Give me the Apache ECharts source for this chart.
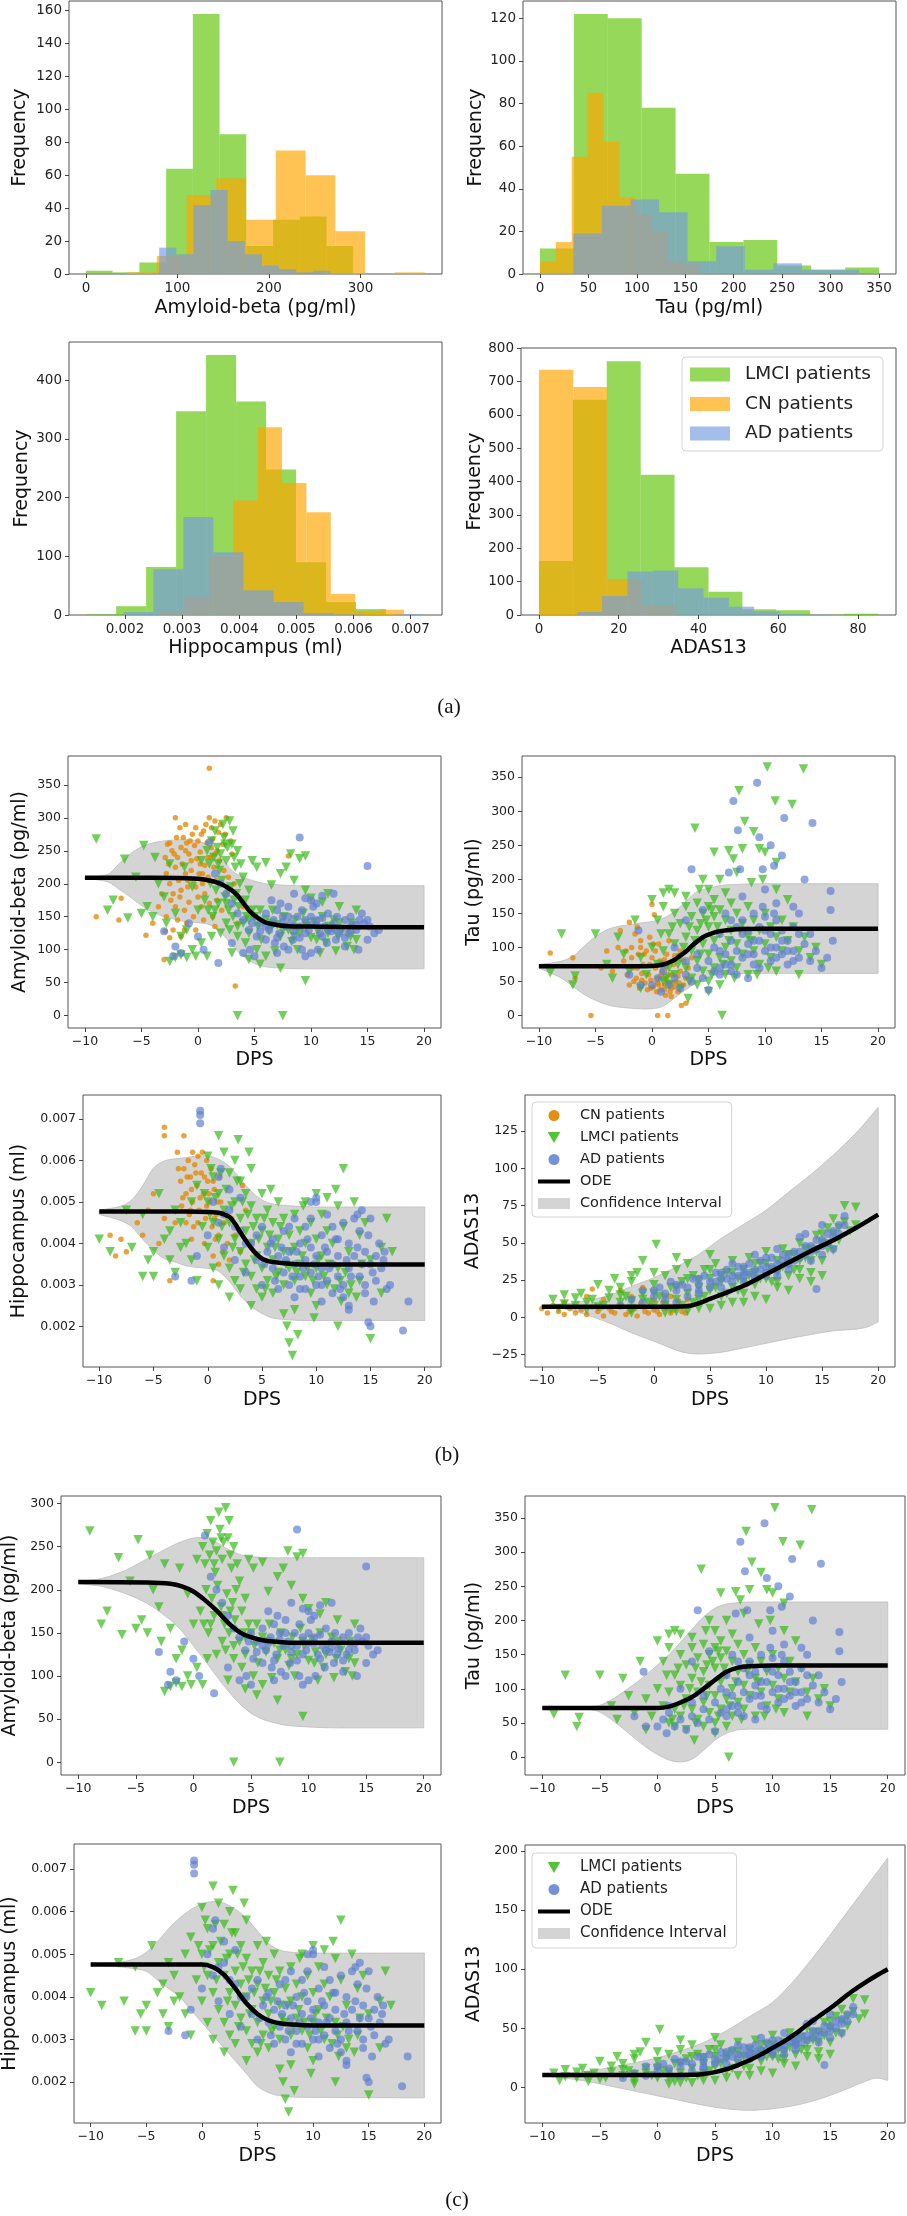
<!DOCTYPE html>
<html>
<head>
<meta charset="utf-8">
<script src="https://cdn.jsdelivr.net/npm/echarts@6/dist/echarts.min.js"></script>
<style>
  html, body { margin: 0; padding: 0; background: #fff; }
  #main { width: 907px; height: 2216px; }
</style>
</head>
<body>
<div id="main"></div>
<script>
// ---------- (a) histograms: bin edges + counts per group ----------
const abLmciEdges = [0, 29.2, 58.4, 87.6, 116.8, 146, 175.2, 204.4, 233.6, 262.8, 292];
const abLmciCounts = [2, 1, 7, 64, 158, 85, 17, 33, 35, 17];
const abCnEdges = [45, 77.5, 110, 142.5, 175, 207.5, 240, 272.5, 305, 337.5, 370];
const abCnCounts = [1, 11, 48, 58, 33, 75, 60, 26, 0, 1];
const abAdEdges = [80, 98.7, 117.4, 136.1, 154.8, 173.5, 192.2, 210.9, 229.6, 248.3, 267];
const abAdCounts = [16, 12, 42, 51, 20, 12, 5, 3, 1, 2];

const tauLmciEdges = [0, 35, 70, 105, 140, 175, 210, 245, 280, 315, 350];
const tauLmciCounts = [12, 122, 120, 78, 47, 15, 16, 4, 2, 3];
const tauCnEdges = [0, 16.4, 32.8, 49.2, 65.6, 82, 98.4, 114.8, 131.2, 147.6, 164];
const tauCnCounts = [6, 15, 55, 85, 62, 36, 28, 20, 6, 5];
const tauAdEdges = [34.4, 63.9, 93.4, 122.9, 152.4, 181.9, 211.4, 240.9, 270.4, 299.9, 329.4];
const tauAdCounts = [19, 32, 35, 29, 6, 13, 2, 5, 2, 2];

const hipLmciEdges = [0.00132, 0.001845, 0.00237, 0.002895, 0.00342, 0.003945, 0.00447, 0.004995, 0.00552, 0.006045, 0.00657];
const hipLmciCounts = [1, 15, 82, 347, 443, 364, 248, 90, 22, 10];
const hipCnEdges = [0.002614, 0.003041, 0.003468, 0.003895, 0.004322, 0.004749, 0.005176, 0.005603, 0.00603, 0.006457, 0.006884];
const hipCnCounts = [7, 31, 100, 195, 320, 225, 175, 36, 7, 9];
const hipAdEdges = [0.00197, 0.002496, 0.003022, 0.003548, 0.004074, 0.0046, 0.005126, 0.005652, 0.006178, 0.006704, 0.00723];
const hipAdCounts = [5, 78, 167, 107, 42, 22, 3, 1, 0, 1];

const adasLmciEdges = [0, 8.5, 17, 25.5, 34, 42.5, 51, 59.5, 68, 76.5, 85];
const adasLmciCounts = [162, 645, 760, 420, 143, 70, 17, 14, 1, 4];
const adasCnEdges = [0, 8.6, 17.2, 25.8, 34.4];
const adasCnCounts = [735, 683, 108, 28];
const adasAdEdges = [9.5, 15.85, 22.2, 28.55, 34.9, 41.25, 47.6, 53.95, 60.3, 66.65, 73];
const adasAdCounts = [9, 57, 130, 133, 80, 52, 25, 12, 3, 1];

// ---------- (b)/(c) scatter points [DPS, value] ----------
const abCnPts = [[-2.5,262],[-2.3,250],[-2,300],[-1.8,240],[-1.5,255],[-1.3,270],[-1,262],[-0.8,245],[-0.5,275],[-0.3,258],[0,265],[0.2,248],[0.5,280],[0.8,262],[1,300],[1.2,285],[1.5,295],[1.8,278],[2,290],[2.2,260],[2.5,300],[1,375],
  [-2.8,215],[-2.5,200],[-2.2,185],[-2,225],[-1.7,205],[-1.4,230],[-1.1,215],[-0.9,195],[-0.6,220],[-0.4,205],[-0.1,238],[0.1,215],[0.4,200],[0.6,228],[0.9,210],[1.1,240],[1.4,225],[1.6,205],[1.9,235],[2.3,220],[2.7,210],
  [-2.4,175],[-2,165],[-1.6,180],[-1.2,160],[-0.8,172],[-0.4,150],[0,180],[0.3,165],[0.6,185],[1,170],[1.3,150],[1.7,175],[2.1,160],[2.6,190],[-1,140],[-0.2,130],[0.5,145],[1.5,135],
  [-2.8,150],[-2.2,130],[-1.8,145],[-1.5,120],[-1.2,130],[-2.5,118],[-3,85],[-2.9,128],
  [-9,150],[-6.8,178],[-7,145],[-4.6,122],[-4,140],[-3.5,165],[-3.2,185],[-2.9,240],[3.3,45],[3,245],[3.2,200],[8,242],[4,165],[3.5,140],
  [-1.9,270],[-1.6,285],[-1.1,290],[-0.7,265],[-0.2,285],[0.3,275],[0.7,290],[1.3,268],[1.7,250],[2.4,275],[-2.6,230],[-2.1,245],[-0.6,235],[0.2,230],[1.2,255],[-1.5,190],[-0.9,205],[-0.2,195],[0.4,215],[1.5,245],[-2.7,260],[2.9,265],[-1.1,250],[0.9,240]];
const abLmciPts = [[0.8,250],[1,230],[1.2,265],[1.4,240],[1.5,280],[1.7,255],[1.9,220],[2,245],[2.2,290],[2.3,270],[2.5,235],[2.6,255],[2.8,295],[3,260],[3.2,240],[3.3,225],[3.5,250],[3.8,230],[4,210],[1.1,200],[1.6,190],[2.1,205],[2.4,180],[2.9,195],[3.4,185],[3.7,200],[4.2,175],[4.5,190],[0.6,175],[0.9,160],[1.3,150],[1.8,170],[2.7,160],[3.1,150],[3.6,165],[4.3,150],[4.8,160],
  [4,140],[4.5,125],[5,150],[5.3,135],[5.6,115],[6,145],[6.3,128],[6.6,160],[7,138],[7.3,120],[7.6,150],[8,130],[8.3,112],[8.6,145],[9,125],[9.3,155],[9.6,135],[10,118],[10.3,142],[10.6,128],[11,150],[11.3,110],[11.6,135],[12,145],[12.4,120],[12.8,130],[13.2,105],[13.6,140],[14,115],[5.2,100],[6.8,98],[8.8,100],[10.8,95],[12.2,98],[13.8,100],[4.2,110],[3.5,120],[2.8,130],[2,125],[1.2,120],[0.3,110],[-0.5,100],[-1,88],[-1.5,92],[-2,88],[-2.5,82],[-0.2,90],[0.8,90],
  [-9,268],[-6.5,237],[-7.5,175],[-8,160],[-6.2,148],[-5,155],[-4.5,165],[-4,150],[-3.5,200],[-3,180],[-2.8,140],[-2,155],[-1.5,120],[-1,130],[-0.5,195],[0,160],[-5.5,210],[-4.8,258],[-3.8,240],[-2.5,230],[4.8,235],[5.2,225],[6,232],[7.3,215],[7.8,225],[8.2,245],[9,238],[9.5,242],[8.5,205],[6.5,198],[10,178],[11,172],[12.5,165],[14,160],[9.5,190],[11.5,185],
  [3.5,0],[7.5,0],[9.5,53],[7.3,72],[5.5,78],[6,90],[4.5,85],[3,95],
  [2.5,140],[3.5,135],[4.5,145],[5.5,160],[6.5,140],[7.5,130],[8.5,120],[9.5,140],[10.5,115],[11.5,125],[12.5,140],[13.5,120],[1.5,160],[2.5,170],[3.2,175],[1.8,230],[2.4,260],[3.1,280],[0.3,235],[-1.2,225]];
const abAdPts = [[5,150],[5.5,140],[6,155],[6.3,130],[6.7,145],[7,160],[7.2,125],[7.5,150],[7.8,135],[8,165],[8.2,140],[8.5,128],[8.8,150],[9,135],[9.2,160],[9.5,145],[9.8,130],[10,150],[10.2,165],[10.5,138],[10.8,125],[11,148],[11.2,135],[11.5,155],[11.8,128],[12,140],[12.3,150],[12.6,132],[13,145],[13.3,125],[13.6,138],[14,130],[14.3,145],[14.7,140],[15.2,135],[15.6,125],[16,130],
  [5.2,120],[6,115],[6.8,110],[7.6,105],[8.4,115],[9.2,100],[10,95],[10.6,100],[11.4,110],[12.2,115],[13,105],[14.2,100],[15,115],[4.5,130],[4,145],[3.5,155],[3,170],[2.5,185],[2,200],[1.5,215],[1,263],[9,270],[15,227],
  [-3,128],[-2,105],[-1.5,95],[-2.2,90],[1.8,80],[-0.8,140],[0,120],[0.5,100],[3,110],[4,95],[7.3,170],[9.5,178],[10,175],[10.5,170],[11,182],[8.5,185],[6.5,175],[12,185],[13.5,150],[14.5,155],[9.5,90],[8,100],[7,95],[5,90],[4.6,100],
  [6.5,138],[7.5,142],[8.5,135],[9.5,125],[10.5,145],[11.5,130],[12.5,125],[13.5,130],[7,118],[9,118],[11,120],[13,118],[8,150],[10,138],[12,133],[14,138],[15,145],[5.5,128],[6,135],[4.8,140]];

const tauCnPts = [[-2,137],[-1.5,120],[-1.8,100],[-1.2,90],[-1,110],[-0.8,75],[-0.5,95],[-0.3,60],[0,85],[0.2,148],[0,163],[0.3,70],[0.5,55],[0.7,80],[0.9,65],[1.1,45],[1.3,90],[1.5,60],[1.7,40],[1.9,75],[2.1,50],[2.3,35],[2.5,65],[2.8,45],[3,55],
  [-2.5,80],[-2.2,60],[-2,45],[-1.7,70],[-1.4,55],[-1.1,40],[-0.9,62],[-0.6,48],[-0.4,38],[-0.1,52],[0.1,42],[0.4,35],[0.6,45],[0.8,38],[1,55],[1.2,30],[1.4,50],[1.6,35],[1.8,60],[2,42],[2.4,48],[-3,100],[-3.5,65],[-2.8,125],[-1.3,130],[-0.2,115],[0.6,105],[1.5,110],[2.5,95],[2.8,80],[3.2,70],[3.5,85],
  [-9,92],[-7,85],[-6.8,55],[-5.4,0],[0.5,0],[1.4,0],[2.6,15],[3,18],[-4.5,70],[-4,95],
  [-1.8,85],[-1.3,70],[-0.7,90],[-0.2,75],[0.3,95],[0.8,60],[1.3,72],[1.8,48],[2.3,58],[-1.6,50],[-0.9,52],[-0.1,40],[0.5,48],[1.1,38],[1.7,28],[-2.3,95],[-1,100],[0.1,105],[1.1,82],[2,88]];
const tauLmciPts = [[-9,63],[-8,120],[-7,45],[-6.8,58],[-5,120],[-4,75],[-3.5,55],[-3,115],[-2.5,90],[-2,65],[-1.5,140],[-1,85],[-0.5,60],[0,170],[0,100],[0.5,140],[0.5,75],[1,160],[1,95],[1,50],[1.5,120],[1.5,70],[1.5,45],[2,150],[2,105],[2,60],[2.5,135],[2.5,85],[2.5,40],[3,160],[3,115],[3,70],[3.5,145],[3.5,95],[3.5,55],[4,165],[4,125],[4,80],[4,45],[4.5,150],[4.5,105],[4.5,65],[5,160],[5,130],[5,90],[5,50],[5.5,145],[5.5,110],[5.5,70],[6,155],[6,120],[6,85],[6,45],[6.5,140],[6.5,100],[6.5,60],[7,165],[7,125],[7,80],[7.5,150],[7.5,105],[7.5,70],[8,135],[8,90],[8.5,160],[8.5,115],[8.5,60],[9,140],[9,95],[9.5,125],[9.5,75],[10,150],[10,105],[10.5,130],[10.5,85],[11,115],[11,65],[11.5,140],[11.5,95],[12,110],[12.5,130],[13,95],[13,60],[13.5,115],[14,85],[14.5,100],[15,75],
  [3.8,275],[4.5,200],[5,185],[5.5,240],[6.8,242],[7.2,230],[7.7,330],[8,245],[8.2,285],[9,270],[9.5,245],[10,240],[10.2,365],[10.9,315],[11,225],[12.4,310],[13.4,362],[12,170],[11,185],[9.8,200],[8.8,195],[7.5,210],[6.5,180],[6,200],[5.5,170],[4.2,185],[3,175],[2,180],[1.5,185],[1,180],[6.2,0],[5,35],[3.2,25],[-1,40],
  [0.8,120],[1.8,130],[2.8,100],[3.8,110],[4.8,140],[5.8,130],[6.8,110],[7.8,125],[8.8,110],[1.3,55],[2.3,75],[3.3,50],[4.3,90],[5.3,60],[6.3,75],[7.3,55],[9.3,60],[10.3,70],[3.3,130],[4.3,135],[5.3,155]];
const tauAdPts = [[-1.2,125],[-2,60],[-1,45],[0,45],[0.5,55],[0.8,35],[1,65],[1.5,45],[2,55],[2.5,40],[3,60],[3.5,50],[4,70],[4.5,55],[5,38],[5,80],[5.5,100],[6,70],[6,120],[6.5,90],[6.5,150],[7,110],[7,75],[7.5,130],[7.5,95],[8,85],[8,140],[8,175],[8.5,105],[8.5,125],[9,90],[9,150],[9,75],[9.5,110],[9.5,130],[10,95],[10,145],[10,185],[10.5,80],[10.5,120],[11,100],[11,165],[11,140],[11.5,90],[11.5,125],[12,110],[12,75],[12.5,95],[12.5,130],[13,150],[13,85],[13.5,105],[14,80],[14,120],[14.5,95],[15,70],[15.5,85],[15.8,183],[15.8,155],[16,110],[13.5,200],[12.5,160],
  [9.3,342],[7.2,315],[11.7,290],[14.2,283],[7.6,272],[9.5,262],[10.5,250],[11.5,235],[10.8,220],[9.8,215],[7.8,215],[6.8,210],[3.5,215],[4.5,155],[3,140],[2,100],[1,75],[6,60],[7,65],[8.5,55],
  [5.5,65],[6.5,75],[7.5,60],[8.5,90],[9.5,70],[10.5,100],[11.5,110],[12.5,80],[7,140],[8,120],[9,110],[10,125],[11,85],[12,95],[13,120],[9.8,160],[10.8,150],[6,95],[4,90],[3,80]];

const hipCnPts = [[-2.5,0.0055],[-2.2,0.0058],[-2,0.0052],[-1.8,0.006],[-1.6,0.0056],[-1.4,0.005],[-1.2,0.0059],[-1,0.0054],[-0.8,0.0048],[-0.6,0.0057],[-0.4,0.0052],[-0.2,0.0046],[0,0.0055],[0.2,0.005],[0.4,0.0044],[0.6,0.0053],[0.8,0.0047],[1,0.0042],[1.2,0.005],[1.5,0.0045],[1.8,0.004],[2.2,0.0046],[2.5,0.0042],[3,0.0038],
  [-2.4,0.0049],[-2,0.0045],[-1.7,0.0047],[-1.3,0.0044],[-0.9,0.0061],[-0.5,0.0062],[-0.1,0.006],[0.3,0.0058],[0.7,0.0041],[1.1,0.0056],[1.4,0.0038],[2,0.0036],[-2.8,0.0062],[-3,0.0045],[-1.5,0.0041],[-0.3,0.004],[0.5,0.0037],[1,0.0035],
  [-4,0.0068],[-4,0.0066],[-2.2,0.0066],[-8.5,0.0037],[-7.5,0.0038],[-9,0.0042],[-8,0.0041],[-6.5,0.0045],[-6,0.0042],[-5.5,0.0048],[-5,0.0052],[-4.5,0.004],[-4,0.0046],[-3.5,0.0031],[0.5,0.0031],[3.5,0.0048],[3.2,0.0054],
  [-2.3,0.0051],[-1.9,0.0056],[-1.5,0.0053],[-1.1,0.0057],[-0.7,0.0051],[-0.3,0.0056],[0.1,0.0052],[0.5,0.0055],[0.9,0.005],[-1.6,0.0048],[-0.9,0.0045],[-0.1,0.0049],[0.6,0.0046],[-2.7,0.0058],[-1.4,0.0062]];
const hipLmciPts = [[-10,0.0041],[-9,0.0038],[-7.5,0.0048],[-7,0.0039],[-6,0.0032],[-5,0.0038],[-5,0.0032],[-4.5,0.0052],[-4,0.0041],[-3.5,0.0036],[-3,0.0033],[-2.5,0.0045],[-2,0.004],[-1.5,0.0036],[-1,0.0054],[-1,0.0031],[-0.5,0.0044],[0,0.0061],[0,0.005],[0,0.0039],[0.5,0.0056],[0.5,0.0045],[0.5,0.0034],[1,0.0066],[1,0.0052],[1,0.0041],[1,0.003],[1.5,0.0062],[1.5,0.0048],[1.5,0.0037],[2,0.0057],[2,0.0045],[2,0.0034],[2,0.0027],[2.5,0.006],[2.5,0.005],[2.5,0.0041],[2.5,0.0031],[3,0.0055],[3,0.0046],[3,0.0038],[3,0.0029],[3.5,0.0052],[3.5,0.0043],[3.5,0.0035],[4,0.0058],[4,0.0049],[4,0.004],[4,0.0032],[4,0.0025],[4.5,0.0046],[4.5,0.0037],[4.5,0.0029],[5,0.0052],[5,0.0043],[5,0.0034],[5,0.0027],[5.5,0.0048],[5.5,0.0039],[5.5,0.0031],[6,0.0045],[6,0.0036],[6,0.0028],[6.5,0.005],[6.5,0.0041],[6.5,0.0033],[7,0.0046],[7,0.0038],[7,0.003],[7,0.0023],[7.5,0.0042],[7.5,0.0034],[7.5,0.0016],[7.8,0.0013],[8,0.0047],[8,0.0039],[8,0.0031],[8,0.0024],[8.5,0.0043],[8.5,0.0035],[9,0.005],[9,0.004],[9,0.0032],[9.5,0.0045],[9.5,0.0028],[10,0.0052],[10,0.0041],[10,0.0034],[10,0.0025],[10.5,0.0047],[10.5,0.0037],[11,0.0051],[11,0.0043],[11,0.003],[11.5,0.004],[12,0.0049],[12,0.0034],[12,0.002],[12.5,0.0058],[12.5,0.0044],[13,0.0038],[13,0.0028],[13.5,0.005],[14,0.0042],[14,0.0031],[14.5,0.0045],[15,0.0036],[15,0.0017],[16,0.0039],[16,0.0028],[17,0.0038],[16.5,0.0046],
  [0.3,0.0058],[0.7,0.0051],[1.2,0.0057],[1.7,0.0053],[2.2,0.0049],[2.7,0.0055],[3.2,0.005],[3.7,0.0047],[4.2,0.0044],[4.7,0.0041],[5.2,0.0046],[5.7,0.0042],[6.2,0.0039],[6.7,0.0044],[7.2,0.0035],[7.7,0.0038],[8.2,0.0033],[8.7,0.0037],[9.2,0.0034],[9.7,0.0031],[10.2,0.0036],[10.7,0.0032],[11.2,0.0035],[11.7,0.0029],[12.2,0.0031],[12.7,0.0033],[13.2,0.003],[13.7,0.0027],[14.2,0.0035],[1.3,0.0044],[2.3,0.0039],[3.3,0.0033],[4.3,0.0036],[5.3,0.0029],[6.3,0.0032],[0.2,0.0047],[-0.3,0.0052],[-1.5,0.005],[-2.5,0.0039],[-3.5,0.0043],[-6,0.0047],[-5.5,0.0036],[-3,0.0048],[2.8,0.0065],[3.8,0.0062],[5.8,0.0053],[8.8,0.0049],[11.8,0.0053],[12.3,0.0026],[9.8,0.0022],[7.3,0.002],[8.3,0.0018]];
const hipAdPts = [[-0.7,0.0072],[-0.7,0.0071],[-0.7,0.0069],[-3,0.0032],[-1.5,0.0031],[-1,0.0037],[0,0.0042],[0.5,0.005],[1,0.0045],[1.5,0.0039],[2,0.0048],[2.5,0.0036],[3,0.0043],[3.5,0.0033],[4,0.004],[4.5,0.0036],[5,0.0044],[5,0.003],[5.5,0.0038],[6,0.0034],[6,0.0041],[6.5,0.0029],[6.5,0.0037],[7,0.0033],[7,0.0043],[7.5,0.003],[7.5,0.0038],[8,0.0035],[8,0.0027],[8,0.0046],[8.5,0.0032],[8.5,0.004],[9,0.0029],[9,0.0036],[9,0.0044],[9.5,0.0033],[9.5,0.0039],[10,0.003],[10,0.0037],[10,0.005],[10.5,0.0034],[10.5,0.0042],[10.5,0.0026],[11,0.0031],[11,0.0038],[11,0.0047],[11.5,0.0035],[11.5,0.0028],[12,0.0032],[12,0.0041],[12,0.0037],[12.5,0.003],[12.5,0.0045],[13,0.0034],[13,0.004],[13,0.0025],[13.5,0.0037],[14,0.0032],[14,0.0043],[14.5,0.0028],[14.5,0.0038],[15,0.0035],[15,0.0046],[15.5,0.0031],[15.5,0.0037],[16,0.0034],[16.5,0.0029],[14.8,0.0021],[15,0.002],[18,0.0019],[18.5,0.0026],[13,0.0024],[10,0.0051],[9.5,0.005],
  [5.2,0.0035],[5.8,0.004],[6.2,0.0031],[6.8,0.0039],[7.2,0.0036],[7.8,0.0032],[8.2,0.0038],[8.8,0.0034],[9.2,0.0041],[9.8,0.0035],[10.2,0.0032],[10.8,0.0039],[11.2,0.0034],[11.8,0.0041],[12.2,0.0029],[12.8,0.0036],[13.2,0.0032],[13.8,0.0039],[14.2,0.0035],[14.8,0.0042],[15.2,0.0033],[15.8,0.004],[16.2,0.0036],[7.5,0.0044],[9.5,0.0046],[11.5,0.0044],[13.5,0.0046],[8.5,0.0029],[10.5,0.003],[12.5,0.0027],[14.5,0.003],[2.5,0.0044],[3.5,0.004],[4.5,0.0042],[1.5,0.0047],[2,0.0053],[3,0.0051],[1,0.0056],[1.2,0.0058],[13.8,0.0047],[14.2,0.0048],[15.3,0.0026],[16.8,0.003],[16.3,0.0038]];

const adasCnPts = [[-10,6],[-9.5,3],[-9,8],[-8.5,4],[-8,2],[-7.5,6],[-7,3],[-6.5,5],[-6,2],[-5.5,7],[-5,4],[-4.5,1],[-4,6],[-3.5,3],[-3,8],[-2.5,2],[-2,5],[-1.5,1],[-1,7],[-0.5,3],[0,5],[0.5,2],[1,6],[1.5,3],[2,7],[2.5,4],[3,8],[-3,18],[-4.5,12],[-6,14],[-2,14],[0,12],[1.5,14],[-5.5,19],[-1,20],[3,12],[-8,10],[-1.2,9],[0.8,10],[2.2,11],
  [-2.2,4],[-1.7,6],[-0.8,4],[-0.3,8],[0.3,4],[1.2,8],[1.8,5],[2.8,3],[-3.8,4],[-4.8,6]];
const adasLmciPts = [[-9,12],[-8.5,6],[-8,15],[-7,8],[-6.5,16],[-6,5],[-5.5,12],[-5,22],[-4.5,8],[-4,18],[-3.5,26],[-3,10],[-3,20],[-2.5,14],[-2,24],[-2,6],[-1.5,30],[-1,16],[-1,38],[-0.5,10],[0,22],[0.2,49],[0.5,14],[1,28],[1,8],[1.5,20],[2,32],[2,12],[2.5,24],[3,16],[3,36],[3.5,28],[4,12],[4,20],[4.5,32],[5,18],[5,26],[5.5,36],[6,14],[6,24],[6.5,30],[7,20],[7,38],[7.5,26],[8,16],[8,32],[8.5,40],[9,22],[9,30],[9.5,36],[10,26],[10,44],[10.5,32],[11,20],[11,38],[11.5,46],[12,28],[12,36],[12.5,42],[13,32],[13,50],[13.5,40],[14,30],[14,46],[14.5,55],[15,38],[15,50],[15.5,60],[16,45],[16,66],[16.5,52],[17,75],[17.5,58],[18,74],[18,62],[12,18],[10,12],[7,10],[5,6],[3,4],[15,28],
  [-8,9],[-7,13],[-6,10],[-5,7],[-4,13],[-3,15],[-2,11],[-1,12],[0,8],[0,16],[1,13],[1.5,5],[2,20],[2.5,8],[3,26],[3.5,10],[4,25],[4.5,14],[5,32],[5.5,20],[6,28],[6.5,16],[7,30],[7.5,18],[8,24],[8.5,28],[9,36],[9.5,26],[10,36],[10.5,24],[11,30],[11.5,34],[12,42],[12.5,32],[13,38],[13.5,46],[14,38],[14.5,44],[15,56],[15.5,46],[16,56],[16.5,60],[17,64],[14,24],[13,26],[11,24],[9,14],[8,10],[6,8],[4,6],[2,4],[1,3],[-2,3],[0,30],[2,40],[-2,28],[5,42]];
const adasAdPts = [[-3,8],[-2,12],[-1,18],[0,14],[0.5,20],[1,16],[1.5,24],[2,18],[2.5,22],[3,20],[3.5,26],[4,22],[4.5,28],[5,24],[5.5,30],[6,26],[6.5,32],[7,28],[7.5,34],[8,30],[8.5,36],[9,32],[9.5,38],[10,34],[10.5,40],[11,36],[11.5,42],[12,38],[12.5,44],[13,40],[13.5,48],[14,44],[14.5,52],[15,48],[15.5,56],[16,54],[16.5,62],[17,68],[6,20],[8,24],[10,28],[12,32],[14,38],[16,46],[7,36],[9,42],[11,46],[13,54],[15,62],[14.5,19],[4,16],[2,10],
  [3,14],[4,18],[5,20],[5.5,24],[6.5,26],[7,24],[7.5,28],[8,28],[8.5,30],[9,28],[9.5,32],[10,30],[10.5,34],[11,32],[11.5,38],[12,36],[12.5,38],[13,44],[13.5,42],[14,48],[14.5,46],[15,52],[15.5,50],[16,58],[16.5,56],[17,62],[12,42],[10,40],[8,34],[6,30],[4,26],[2,22],[1,12],[-1,10],[0,18],[13.5,56],[15,42],[11,28],[9,26]];

// ---------- ODE curves and confidence bands ----------
const abOdeBX = [-10,-4,-1,0,1,2,3,3.5,4,4.5,5,5.5,6,7,8,10,15,20];
const abOdeBY = [209,209,208.5,207.5,205,200,190,182,171,160,152,146,141,137.5,135.5,135,134,134];
const abCiBX = [-10,-8,-7,-6,-5,-4,-3,-2,-1,0,1,2,3,4,5,6,8,10,15,20];
const abCiBHi = [210,214,230,245,256,262,265,266.5,267,265,257.5,242.5,220,210,204,200,197.5,197,197,197];
const abCiBLo = [208,203,192,180,167,157,150,146,142,141,138,127,107,90,79,74,71.5,71,71,71];

const tauOdeBX = [-10,-2,0,0.5,1,1.5,2,2.5,3,3.5,4,4.5,5,6,7,8,10,20];
const tauOdeBY = [72.5,72.5,73,73.5,75,78,82,88,94,102,109,115,119,124,126,127,127.5,127.5];
const tauCiBX = [-10,-8,-7,-6,-5,-4,-3,-2,-1,0,1,2,3,4,5,6,8,10,15,20];
const tauCiBHi = [75,80,87,102,116,126,131,133.5,136,138,143,153,168,182,187,191,193,193.6,193.6,193.6];
const tauCiBLo = [70,55,43,31,22.5,16,12.7,11,10,10,14,26,38,49,57,60,61.6,62,62,62];

const hipOdeBX = [-10,-2,0,1,1.5,2,2.5,3,3.5,4,4.5,5,5.5,6,7,8,10,20];
const hipOdeBY = [0.00477,0.00477,0.00476,0.00474,0.0047,0.00464,0.00448,0.00427,0.00407,0.00389,0.00374,0.00363,0.00358,0.00355,0.00352,0.0035,0.00349,0.00349];
const hipCiBX = [-10,-8,-7,-6,-5,-4,-3,-2,-1,0,1,2,3,4,5,6,8,10,15,20];
const hipCiBHi = [0.0048,0.0049,0.00505,0.00539,0.00582,0.00599,0.00604,0.00607,0.00611,0.00611,0.00603,0.00586,0.00556,0.00526,0.00505,0.00495,0.0049,0.00488,0.00488,0.00488];
const hipCiBLo = [0.0047,0.00455,0.0044,0.0041,0.00384,0.00363,0.00355,0.00346,0.00342,0.0034,0.00333,0.00308,0.00274,0.00248,0.00231,0.0022,0.00215,0.00214,0.00214,0.00214];

const adasOdeBX = [-10,0,3,4,5,6,8,10,12,14,16,18,20];
const adasOdeBY = [7.2,7.2,7.5,9.5,12.4,15.3,21.2,29,36.8,44.6,51.8,60,69];
const adasCiBX = [-10,-8,-6,-4,-2,0,2,3,4,6,8,10,12,14,16,18,19,20];
const adasCiBHi = [8,9,11.2,14.8,20.8,26.7,33.9,38,42.2,53,62.5,72,84,96,109,123.6,132,141];
const adasCiBLo = [6,5.7,1.7,-3.8,-10.3,-16,-22,-24,-24.6,-23.4,-20.5,-17.4,-14.3,-11.5,-9,-7.9,-6.5,-3];

const abOdeCX = [-10,-4,-2,-1,0,1,2,3,4,5,6,8,10,20];
const abOdeCY = [209,208.5,207,204,198,188,176,162,151,145,141.5,139,138.5,138.5];
const abCiCX = [-10,-8,-6,-4,-2,-1,0,1,2,3,4,5,6,7,8,10,12,15,20];
const abCiCHi = [210,213,222,236,250,256,260,260,255,247,241,238.5,237.5,237,237,237,237,237,237];
const abCiCLo = [207,204,196,184,165,152,135,118,100,83,68,57,50,46,43,41,40,40,40];

const tauOdeCX = [-10,0,1,2,3,4,5,6,7,8,10,20];
const tauOdeCY = [72,72,74,80,88,100,113,125,131,133,134,134];
const tauCiCX = [-10,-6,-5,-4,-3,-2,-1,0,1,2,3,4,5,6,7,8,10,15,20];
const tauCiCHi = [73,74,76,84,95,107,120,135,150,168,187,205,218,224,226,227,227,227,227];
const tauCiCLo = [71,70,66,55,42,28,15,4,-4,-7,-3,10,25,35,40,41,41,41,41];

const hipOdeCX = [-10,0,1,2,3,4,5,6,7,8,10,20];
const hipOdeCY = [0.00476,0.00476,0.0047,0.00452,0.0042,0.00385,0.0036,0.00345,0.00338,0.00335,0.00333,0.00333];
const hipCiCX = [-10,-8,-6,-5,-4,-3,-2,-1,0,1,2,3,4,5,6,7,8,10,20];
const hipCiCHi = [0.00477,0.00478,0.0049,0.00505,0.0053,0.0056,0.00585,0.00605,0.00618,0.00624,0.0062,0.00606,0.00585,0.00555,0.00525,0.0051,0.00505,0.00503,0.00503];
const hipCiCLo = [0.00475,0.00472,0.00466,0.0046,0.0044,0.0042,0.004,0.0037,0.0034,0.0031,0.0028,0.0025,0.0022,0.0019,0.00175,0.00168,0.00165,0.00164,0.00163];

const adasOdeCX = [-10,0,3,4,5,6,7,8,9,10,11,12,13,14,15,16,17,18,19,20];
const adasOdeCY = [10.5,10.5,10.7,11.5,13,15.5,19,23,28,33.5,39,45.5,53,60,67,74.5,82,88.5,94.5,100];
const adasCiCX = [-10,-8,-6,-4,-2,0,2,4,6,8,10,12,14,16,18,19,20];
const adasCiCHi = [11,12,14,17,21,25,31,38,48,60,72,92,116,142,168,181,194];
const adasCiCLo = [10,8,5,1,-3,-7,-11,-15,-18,-19.3,-18,-15,-10,-3,5,8,6];

// ---------- tick values ----------
const dpsTicks = [-10, -5, 0, 5, 10, 15, 20];
const hipTicks = [0.002, 0.003, 0.004, 0.005, 0.006, 0.007];

const FONT = '"DejaVu Sans", sans-serif';
const HIST_LMCI = 'rgba(97,197,9,0.67)';
const HIST_CN = 'rgba(255,165,0,0.67)';
const HIST_AD = 'rgba(119,156,224,0.67)';
const PT_CN = 'rgba(226,136,0,0.95)';
const PT_LMCI = 'rgba(52,184,20,0.85)';
const PT_AD = 'rgba(94,126,208,0.85)';
const BAND = 'rgba(170,170,170,0.5)';
const TRI_DOWN = 'path://M0,0 L10,0 L5,8.7 Z';
const LINE_ICON = 'path://M0,0 L32,0 L32,4 L0,4 Z';

const grids = [
    { left: 69, top: 1, width: 373, height: 273 },
    { left: 523, top: 1, width: 373, height: 273 },
    { left: 69, top: 342, width: 373, height: 273 },
    { left: 521, top: 348, width: 375, height: 267 },
    { left: 68, top: 756, width: 373, height: 272 },
    { left: 522, top: 756, width: 373, height: 272 },
    { left: 83, top: 1095, width: 358, height: 272 },
    { left: 525, top: 1095, width: 370, height: 272 },
    { left: 60, top: 1496, width: 381, height: 279 },
    { left: 525, top: 1496, width: 380, height: 279 },
    { left: 74, top: 1844, width: 367, height: 279 },
    { left: 525, top: 1845, width: 380, height: 278 }
].map(g => Object.assign({ show: true, borderColor: '#555', borderWidth: 1, backgroundColor: 'transparent' }, g));

function fmt(v) {
    let s = (v !== 0 && Math.abs(v) < 0.05) ? v.toFixed(3) : String(v);
    return s.replace('-', '\u2212');
}

function axis(gi, range, ticks, name, gap, fontSize) {
    return {
        gridIndex: gi, type: 'value', min: range[0], max: range[1],
        name: name, nameLocation: 'middle', nameGap: gap,
        nameTextStyle: { fontSize: 19, color: '#111', fontFamily: FONT },
        axisLine: { show: false, onZero: false },
        splitLine: { show: false },
        axisTick: { show: true, length: 4, customValues: ticks, lineStyle: { color: '#444' } },
        axisLabel: { show: true, customValues: ticks, fontSize: fontSize, color: '#222', fontFamily: FONT, margin: 7, formatter: fmt }
    };
}

const xAxes = [
    axis(0, [-18.5, 389], [0, 100, 200, 300], 'Amyloid-beta (pg/ml)', 25, 13.5),
    axis(1, [-17.5, 367.5], [0, 50, 100, 150, 200, 250, 300, 350], 'Tau (pg/ml)', 25, 13.5),
    axis(2, [0.00102, 0.00755], hipTicks, 'Hippocampus (ml)', 24, 13.5),
    axis(3, [-4.5, 89.5], [0, 20, 40, 60, 80], 'ADAS13', 24, 13.5),
    axis(4, [-11.5, 21.5], dpsTicks, 'DPS', 23, 12.5),
    axis(5, [-11.5, 21.5], dpsTicks, 'DPS', 23, 12.5),
    axis(6, [-11.5, 21.5], dpsTicks, 'DPS', 24, 12.5),
    axis(7, [-11.5, 21.5], dpsTicks, 'DPS', 24, 12.5),
    axis(8, [-11.5, 21.5], dpsTicks, 'DPS', 24, 12.5),
    axis(9, [-11.5, 21.5], dpsTicks, 'DPS', 24, 12.5),
    axis(10, [-11.5, 21.5], dpsTicks, 'DPS', 24, 12.5),
    axis(11, [-11.5, 21.5], dpsTicks, 'DPS', 24, 12.5)
];
const yAxes = [
    axis(0, [0, 165.9], [0, 20, 40, 60, 80, 100, 120, 140, 160], 'Frequency', 39, 13.5),
    axis(1, [0, 128.1], [0, 20, 40, 60, 80, 100, 120], 'Frequency', 37, 13.5),
    axis(2, [0, 465.2], [0, 100, 200, 300, 400], 'Frequency', 37, 13.5),
    axis(3, [0, 800], [0, 100, 200, 300, 400, 500, 600, 700, 800], 'Frequency', 36, 13.5),
    axis(4, [-18.75, 393.75], [0, 50, 100, 150, 200, 250, 300, 350], 'Amyloid-beta (pg/ml)', 38, 12.5),
    axis(5, [-18.2, 381.2], [0, 50, 100, 150, 200, 250, 300, 350], 'Tau (pg/ml)', 38, 12.5),
    axis(6, [0.00102, 0.00758], hipTicks, 'Hippocampus (ml)', 54, 12.5),
    axis(7, [-33.3, 149.3], [-25, 0, 25, 50, 75, 100, 125], 'ADAS13', 42, 12.5),
    axis(8, [-14.7, 308.7], [0, 50, 100, 150, 200, 250, 300], 'Amyloid-beta (pg/ml)', 41, 12.5),
    axis(9, [-26, 382], [0, 50, 100, 150, 200, 250, 300, 350], 'Tau (pg/ml)', 41, 12.5),
    axis(10, [0.00104, 0.00759], hipTicks, 'Hippocampus (ml)', 54, 12.5),
    axis(11, [-30, 205], [0, 50, 100, 150, 200], 'ADAS13', 41, 12.5)
];

// one histogram = rectangles from bin edges through the axis scale
function hist(gi, name, edges, counts, color) {
    return {
        type: 'custom', name: name, xAxisIndex: gi, yAxisIndex: gi, clip: true,
        encode: { x: [0, 1], y: 2 },
        data: counts.map((c, i) => [edges[i], edges[i + 1], c]),
        renderItem: function(params, api) {
            let p0 = api.coord([api.value(0), api.value(2)]);
            let p1 = api.coord([api.value(1), 0]);
            return {
                type: 'rect',
                shape: { x: p0[0], y: p0[1], width: p1[0] - p0[0], height: p1[1] - p0[1] },
                style: { fill: color }
            };
        }
    };
}

function pairs(xs, ys) {
    return xs.map((x, i) => [x, ys[i]]);
}

// confidence band: one smoothed polygon, upper edge then lower edge reversed
function band(gi, xs, lo, hi) {
    return {
        type: 'custom', name: 'Confidence Interval', xAxisIndex: gi, yAxisIndex: gi,
        clip: true, silent: true, z: 1,
        encode: { x: 0, y: [1, 2] },
        data: xs.map((x, i) => [x, lo[i], hi[i]]),
        renderItem: function(params, api) {
            if (params.dataIndex !== 0) return;
            let up = xs.map((x, i) => api.coord([x, hi[i]]));
            let dn = xs.map((x, i) => api.coord([x, lo[i]])).reverse();
            // doubled end points keep the corners sharp while the sides stay smooth
            let pts = [up[0]].concat(up, [up[up.length - 1], dn[0]], dn, [dn[dn.length - 1]]);
            return {
                type: 'polygon',
                shape: { points: pts, smooth: 0.3 },
                style: { fill: BAND, stroke: '#bcbcbc', lineWidth: 0.8 }
            };
        }
    };
}

function ode(gi, xs, ys) {
    return {
        type: 'line', name: 'ODE', xAxisIndex: gi, yAxisIndex: gi, data: pairs(xs, ys),
        symbol: 'none', smooth: 0.3, z: 5, lineStyle: { color: '#000', width: 4.5 }
    };
}

function pts(gi, name, data) {
    let st = {
        'CN patients': { symbol: 'circle', symbolSize: 5.5, color: PT_CN, rot: 0 },
        'LMCI patients': { symbol: 'triangle', symbolSize: 9.5, color: PT_LMCI, rot: 180 },
        'AD patients': { symbol: 'circle', symbolSize: 8, color: PT_AD, rot: 0 }
    }[name];
    return {
        type: 'scatter', name: name, xAxisIndex: gi, yAxisIndex: gi, data: data,
        symbol: st.symbol, symbolSize: st.symbolSize, symbolRotate: st.rot, z: 3,
        itemStyle: { color: st.color }
    };
}

let series = [
    hist(0, 'LMCI patients', abLmciEdges, abLmciCounts, HIST_LMCI),
    hist(0, 'CN patients', abCnEdges, abCnCounts, HIST_CN),
    hist(0, 'AD patients', abAdEdges, abAdCounts, HIST_AD),
    hist(1, 'LMCI patients', tauLmciEdges, tauLmciCounts, HIST_LMCI),
    hist(1, 'CN patients', tauCnEdges, tauCnCounts, HIST_CN),
    hist(1, 'AD patients', tauAdEdges, tauAdCounts, HIST_AD),
    hist(2, 'LMCI patients', hipLmciEdges, hipLmciCounts, HIST_LMCI),
    hist(2, 'CN patients', hipCnEdges, hipCnCounts, HIST_CN),
    hist(2, 'AD patients', hipAdEdges, hipAdCounts, HIST_AD),
    hist(3, 'LMCI patients', adasLmciEdges, adasLmciCounts, HIST_LMCI),
    hist(3, 'CN patients', adasCnEdges, adasCnCounts, HIST_CN),
    hist(3, 'AD patients', adasAdEdges, adasAdCounts, HIST_AD)
];

const scatterPanels = [
    [4, abCiBX, abCiBLo, abCiBHi, abOdeBX, abOdeBY, abCnPts, abLmciPts, abAdPts],
    [5, tauCiBX, tauCiBLo, tauCiBHi, tauOdeBX, tauOdeBY, tauCnPts, tauLmciPts, tauAdPts],
    [6, hipCiBX, hipCiBLo, hipCiBHi, hipOdeBX, hipOdeBY, hipCnPts, hipLmciPts, hipAdPts],
    [7, adasCiBX, adasCiBLo, adasCiBHi, adasOdeBX, adasOdeBY, adasCnPts, adasLmciPts, adasAdPts],
    [8, abCiCX, abCiCLo, abCiCHi, abOdeCX, abOdeCY, null, abLmciPts, abAdPts],
    [9, tauCiCX, tauCiCLo, tauCiCHi, tauOdeCX, tauOdeCY, null, tauLmciPts, tauAdPts],
    [10, hipCiCX, hipCiCLo, hipCiCHi, hipOdeCX, hipOdeCY, null, hipLmciPts, hipAdPts],
    [11, adasCiCX, adasCiCLo, adasCiCHi, adasOdeCX, adasOdeCY, null, adasLmciPts, adasAdPts]
];
scatterPanels.forEach(p => {
    series.push(band(p[0], p[1], p[2], p[3]));
    if (p[6]) series.push(pts(p[0], 'CN patients', p[6]));
    series.push(pts(p[0], 'LMCI patients', p[7]));
    series.push(pts(p[0], 'AD patients', p[8]));
    series.push(ode(p[0], p[4], p[5]));
});

const legendBase = {
    orient: 'vertical', selectedMode: false,
    backgroundColor: 'rgba(255,255,255,0.85)', borderColor: '#d4d4d4', borderWidth: 1, borderRadius: 4
};

let option = {
    animation: false,
    backgroundColor: '#fff',
    grid: grids,
    xAxis: xAxes,
    yAxis: yAxes,
    legend: [
        Object.assign({}, legendBase, {
            left: 682, top: 357, itemWidth: 40, itemHeight: 14, itemGap: 10.5, padding: [8, 12, 8, 8],
            textStyle: { fontSize: 18.5, color: '#222', fontFamily: FONT, padding: [0, 0, 0, 10] },
            data: [
                { name: 'LMCI patients', icon: 'rect', itemStyle: { color: HIST_LMCI } },
                { name: 'CN patients', icon: 'rect', itemStyle: { color: HIST_CN } },
                { name: 'AD patients', icon: 'rect', itemStyle: { color: HIST_AD } }
            ]
        }),
        Object.assign({}, legendBase, {
            left: 532, top: 1102, itemWidth: 32, itemHeight: 11, itemGap: 7, padding: [6, 10, 6, 6],
            textStyle: { fontSize: 14.5, color: '#222', fontFamily: FONT, padding: [0, 0, 0, 5] },
            data: [
                { name: 'CN patients', icon: 'circle', itemStyle: { color: PT_CN } },
                { name: 'LMCI patients', icon: TRI_DOWN, itemStyle: { color: PT_LMCI } },
                { name: 'AD patients', icon: 'circle', itemStyle: { color: PT_AD } },
                { name: 'ODE', icon: LINE_ICON, itemStyle: { color: '#000' } },
                { name: 'Confidence Interval', icon: 'rect', itemStyle: { color: '#d4d4d4' } }
            ]
        }),
        Object.assign({}, legendBase, {
            left: 532, top: 1853, itemWidth: 32, itemHeight: 11, itemGap: 7, padding: [7, 10, 7, 6],
            textStyle: { fontSize: 15, color: '#222', fontFamily: FONT, padding: [0, 0, 0, 5] },
            data: [
                { name: 'LMCI patients', icon: TRI_DOWN, itemStyle: { color: PT_LMCI } },
                { name: 'AD patients', icon: 'circle', itemStyle: { color: PT_AD } },
                { name: 'ODE', icon: LINE_ICON, itemStyle: { color: '#000' } },
                { name: 'Confidence Interval', icon: 'rect', itemStyle: { color: '#d4d4d4' } }
            ]
        })
    ],
    graphic: ['(a)', '(b)', '(c)'].map((t, i) => ({
        type: 'text', x: [449, 447, 457][i], y: [707, 1455, 2200][i],
        style: { text: t, font: '21px "Liberation Serif", serif', fill: '#111', textAlign: 'center', textVerticalAlign: 'middle' }
    })),
    series: series
};

let myChart = echarts.init(document.getElementById('main'));
myChart.setOption(option);
</script>
</body>
</html>
